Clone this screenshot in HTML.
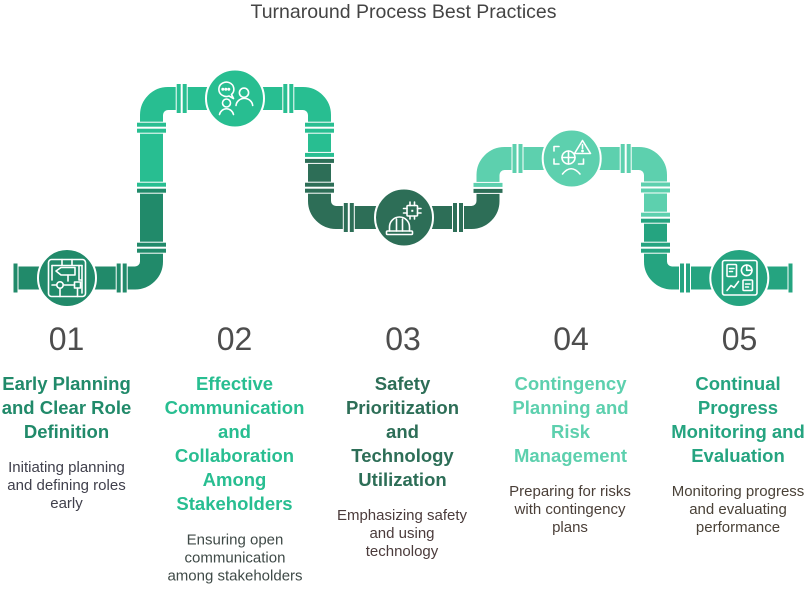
<!DOCTYPE html>
<html>
<head>
<meta charset="utf-8">
<style>
  html,body{margin:0;padding:0;background:#fff;}
  svg{display:block;}
  text{font-family:"Liberation Sans", Arial, sans-serif;}
  .num{font-size:32px;fill:#4d4d4d;text-anchor:middle;}
  .ttl{font-size:18.5px;font-weight:bold;text-anchor:middle;}
  .dsc{font-size:15px;text-anchor:middle;}
  .ic{fill:none;stroke:#fff;stroke-width:1.6;stroke-linecap:round;stroke-linejoin:round;}
</style>
</head>
<body>
<svg width="807" height="613" viewBox="0 0 807 613" xmlns="http://www.w3.org/2000/svg">
  <!-- Title -->
  <text x="403.5" y="18" text-anchor="middle" style="font-size:19.5px;fill:#444;">Turnaround Process Best Practices</text>

  <!-- Pipes -->
  <g fill="none" stroke-width="23" stroke-linecap="butt">
    <path d="M16 278 H135 A16.5 16.5 0 0 0 151.5 261.5 V187.7" stroke="#218a6a"/>
    <path d="M151.5 187.7 V115 A16.5 16.5 0 0 1 168 98.5 H303 A16.5 16.5 0 0 1 319.5 115 V157.9" stroke="#28be91"/>
    <path d="M319.5 157.9 V201 A16.5 16.5 0 0 0 336 217.5 H471.5 A16.5 16.5 0 0 0 488 201 V187.9" stroke="#2d6e57"/>
    <path d="M488 187.9 V175 A16.5 16.5 0 0 1 504.5 158.5 H639 A16.5 16.5 0 0 1 655.5 175 V217.7" stroke="#5dd0ae"/>
    <path d="M655.5 217.7 V261.5 A16.5 16.5 0 0 0 672 278 H790" stroke="#25a480"/>
  </g>

  <!-- Flanges on vertical pipes -->
  <g>
    <!-- x 151.5 -->
    <rect x="136" y="241.7" width="31" height="12" fill="#fff"/>
    <rect x="137" y="242.7" width="29" height="4" fill="#218a6a"/>
    <rect x="137" y="248.7" width="29" height="4" fill="#218a6a"/>
    <rect x="136" y="181.7" width="31" height="12" fill="#fff"/>
    <rect x="137" y="182.7" width="29" height="4" fill="#28be91"/>
    <rect x="137" y="188.7" width="29" height="4" fill="#218a6a"/>
    <rect x="136" y="121.7" width="31" height="12" fill="#fff"/>
    <rect x="137" y="122.7" width="29" height="4" fill="#28be91"/>
    <rect x="137" y="128.7" width="29" height="4" fill="#28be91"/>
    <!-- x 319.5 -->
    <rect x="304" y="121.7" width="31" height="12" fill="#fff"/>
    <rect x="305" y="122.7" width="29" height="4" fill="#28be91"/>
    <rect x="305" y="128.7" width="29" height="4" fill="#28be91"/>
    <rect x="304" y="151.9" width="31" height="12" fill="#fff"/>
    <rect x="305" y="152.9" width="29" height="4" fill="#28be91"/>
    <rect x="305" y="158.9" width="29" height="4" fill="#2d6e57"/>
    <rect x="304" y="181.7" width="31" height="12" fill="#fff"/>
    <rect x="305" y="182.7" width="29" height="4" fill="#2d6e57"/>
    <rect x="305" y="188.7" width="29" height="4" fill="#2d6e57"/>
    <!-- x 488 -->
    <rect x="472.5" y="181.9" width="31" height="12" fill="#fff"/>
    <rect x="473.5" y="182.9" width="29" height="4" fill="#5dd0ae"/>
    <rect x="473.5" y="188.9" width="29" height="4" fill="#2d6e57"/>
    <!-- x 655.5 -->
    <rect x="640" y="181.5" width="31" height="12" fill="#fff"/>
    <rect x="641" y="182.5" width="29" height="4" fill="#5dd0ae"/>
    <rect x="641" y="188.5" width="29" height="4" fill="#5dd0ae"/>
    <rect x="640" y="211.7" width="31" height="12" fill="#fff"/>
    <rect x="641" y="212.7" width="29" height="4" fill="#5dd0ae"/>
    <rect x="641" y="218.7" width="29" height="4" fill="#25a480"/>
    <rect x="640" y="241.7" width="31" height="12" fill="#fff"/>
    <rect x="641" y="242.7" width="29" height="4" fill="#25a480"/>
    <rect x="641" y="248.7" width="29" height="4" fill="#25a480"/>
  </g>

  <!-- Flanges on horizontal pipes -->
  <g>
    <!-- A left end -->
    <rect x="12.5" y="262.5" width="6" height="31" fill="#fff"/>
    <rect x="13.5" y="263.5" width="4" height="29" fill="#218a6a"/>
    <!-- A pair -->
    <rect x="115.7" y="262.5" width="12" height="31" fill="#fff"/>
    <rect x="116.7" y="263.5" width="4" height="29" fill="#218a6a"/>
    <rect x="122.7" y="263.5" width="4" height="29" fill="#218a6a"/>
    <!-- B pairs -->
    <rect x="175.7" y="83" width="12" height="31" fill="#fff"/>
    <rect x="176.7" y="84" width="4" height="29" fill="#28be91"/>
    <rect x="182.7" y="84" width="4" height="29" fill="#28be91"/>
    <rect x="282.3" y="83" width="12" height="31" fill="#fff"/>
    <rect x="283.3" y="84" width="4" height="29" fill="#28be91"/>
    <rect x="289.3" y="84" width="4" height="29" fill="#28be91"/>
    <!-- C pairs -->
    <rect x="342.8" y="202" width="12" height="31" fill="#fff"/>
    <rect x="343.8" y="203" width="4" height="29" fill="#2d6e57"/>
    <rect x="349.8" y="203" width="4" height="29" fill="#2d6e57"/>
    <rect x="452" y="202" width="12" height="31" fill="#fff"/>
    <rect x="453" y="203" width="4" height="29" fill="#2d6e57"/>
    <rect x="459" y="203" width="4" height="29" fill="#2d6e57"/>
    <!-- D pairs -->
    <rect x="511.5" y="143" width="12" height="31" fill="#fff"/>
    <rect x="512.5" y="144" width="4" height="29" fill="#5dd0ae"/>
    <rect x="518.5" y="144" width="4" height="29" fill="#5dd0ae"/>
    <rect x="619.7" y="143" width="12" height="31" fill="#fff"/>
    <rect x="620.7" y="144" width="4" height="29" fill="#5dd0ae"/>
    <rect x="626.7" y="144" width="4" height="29" fill="#5dd0ae"/>
    <!-- E pair + right end -->
    <rect x="679" y="262.5" width="12" height="31" fill="#fff"/>
    <rect x="680" y="263.5" width="4" height="29" fill="#25a480"/>
    <rect x="686" y="263.5" width="4" height="29" fill="#25a480"/>
    <rect x="787.5" y="262.5" width="6" height="31" fill="#fff"/>
    <rect x="788.5" y="263.5" width="4" height="29" fill="#25a480"/>
  </g>

  <!-- Circles -->
  <circle cx="67" cy="278" r="29" fill="#218a6a" stroke="#fff" stroke-width="2"/>
  <circle cx="235" cy="98.5" r="29" fill="#28be91" stroke="#fff" stroke-width="2"/>
  <circle cx="404" cy="217.5" r="29" fill="#2d6e57" stroke="#fff" stroke-width="2"/>
  <circle cx="571.7" cy="158.5" r="29" fill="#5dd0ae" stroke="#fff" stroke-width="2"/>
  <circle cx="739.3" cy="278" r="29" fill="#25a480" stroke="#fff" stroke-width="2"/>

  <!-- Icon 1: flowchart -->
  <g class="ic">
    <rect x="48.5" y="259.5" width="37" height="37" rx="3"/>
    <path d="M52 265.5 H82 M62 259.5 V265.5 M72 259.5 V265.5"/>
    <path d="M56 271 L61 267.5 H75 V275 H61 Z"/>
    <path d="M52 265.5 V280 M82 265.5 V293 M79 265.5 V280 H82"/>
    <path d="M68 275 V281"/>
    <circle cx="60" cy="285" r="3.2"/>
    <rect x="74.5" y="282" width="6" height="6"/>
    <path d="M63.2 285 H74.5 M60 288.2 V296.5 M77.5 288 V296.5 M52 285 H56.8"/>
  </g>

  <!-- Icon 2: people + speech bubble -->
  <g class="ic">
    <path d="M231.5 94.5 A7.5 7.2 0 1 0 229 96 L233.5 98.5 Z"/>
    <circle cx="222.8" cy="89.3" r="0.7" fill="#fff"/>
    <circle cx="225.8" cy="89.3" r="0.7" fill="#fff"/>
    <circle cx="228.8" cy="89.3" r="0.7" fill="#fff"/>
    <circle cx="226.5" cy="103" r="4"/>
    <path d="M219.5 114.5 A7.2 7.5 0 0 1 233.5 114.5"/>
    <circle cx="244" cy="92.7" r="4.6"/>
    <path d="M236 105.5 A8.4 8 0 0 1 252.7 105.5"/>
  </g>

  <!-- Icon 3: hard hat + chip -->
  <g class="ic">
    <rect x="407" y="205.5" width="10.5" height="10.5" rx="1"/>
    <rect x="411.3" y="209.8" width="2" height="2" fill="#fff" stroke="none"/>
    <path d="M410 205.5 V202 M414.5 205.5 V202 M410 216 V219 M414.5 216 V219 M407 208.5 H403.5 M407 213 H403.5 M417.5 208.5 H421 M417.5 213 H421"/>
    <path d="M389.5 231 V227 A10 10 0 0 1 409.5 227 V231"/>
    <rect x="386.5" y="231" width="26" height="3.5" rx="1"/>
    <path d="M396.5 231 V219 M402.5 231 V219"/>
  </g>

  <!-- Icon 4: focus frame, globe, warning, frown -->
  <g class="ic">
    <path d="M554 151 V146.5 H559 M554 159 V164 H559 M583.5 159 V164 H578.5"/>
    <circle cx="568.5" cy="157.5" r="6.5"/>
    <path d="M568.5 151 V164 M562 157.5 H575"/>
    <path d="M582.5 140.5 L590.5 153.5 H574.5 Z"/>
    <path d="M582.5 144.5 V148.5"/>
    <circle cx="582.5" cy="151" r="0.6" fill="#fff"/>
    <path d="M562.5 174 Q571 163.5 580 174"/>
  </g>

  <!-- Icon 5: dashboard -->
  <g class="ic">
    <rect x="722.5" y="260.5" width="34.5" height="34.5" rx="2"/>
    <rect x="727" y="264.5" width="9.5" height="12" rx="1"/>
    <path d="M729.5 268.5 H734 M729.5 271.5 H732.5"/>
    <circle cx="746.7" cy="270.3" r="5.3"/>
    <path d="M746.7 265 V270.3 H752"/>
    <path d="M727 290.5 L731 285.5 L734 287.5 L738.5 281.5"/>
    <rect x="743" y="280" width="9.5" height="10.5" rx="1"/>
    <path d="M745.5 284 H750 M745.5 287 H748.5"/>
  </g>

  <!-- Numbers -->
  <text class="num" x="66.5" y="350">01</text>
  <text class="num" x="234.5" y="350">02</text>
  <text class="num" x="403" y="350">03</text>
  <text class="num" x="571" y="350">04</text>
  <text class="num" x="739.5" y="350">05</text>

  <!-- Titles -->
  <g class="ttl" fill="#218a6a">
    <text x="66.5" y="390">Early Planning</text>
    <text x="66.5" y="414">and Clear Role</text>
    <text x="66.5" y="438">Definition</text>
  </g>
  <g class="ttl" fill="#28be91">
    <text x="234.5" y="390">Effective</text>
    <text x="234.5" y="414">Communication</text>
    <text x="234.5" y="438">and</text>
    <text x="234.5" y="462">Collaboration</text>
    <text x="234.5" y="486">Among</text>
    <text x="234.5" y="510">Stakeholders</text>
  </g>
  <g class="ttl" fill="#2d6e57">
    <text x="402.5" y="390">Safety</text>
    <text x="402.5" y="414">Prioritization</text>
    <text x="402.5" y="438">and</text>
    <text x="402.5" y="462">Technology</text>
    <text x="402.5" y="486">Utilization</text>
  </g>
  <g class="ttl" fill="#5dd0ae">
    <text x="570.5" y="390">Contingency</text>
    <text x="570.5" y="414">Planning and</text>
    <text x="570.5" y="438">Risk</text>
    <text x="570.5" y="462">Management</text>
  </g>
  <g class="ttl" fill="#25a480">
    <text x="738" y="390">Continual</text>
    <text x="738" y="414">Progress</text>
    <text x="738" y="438">Monitoring and</text>
    <text x="738" y="462">Evaluation</text>
  </g>

  <!-- Descriptions -->
  <g class="dsc" fill="#40404c">
    <text x="66.5" y="472">Initiating planning</text>
    <text x="66.5" y="490">and defining roles</text>
    <text x="66.5" y="508">early</text>
  </g>
  <g class="dsc" fill="#3f4a47">
    <text x="235" y="544.5">Ensuring open</text>
    <text x="235" y="562.5">communication</text>
    <text x="235" y="580.5">among stakeholders</text>
  </g>
  <g class="dsc" fill="#4b3b3b">
    <text x="402" y="520">Emphasizing safety</text>
    <text x="402" y="538">and using</text>
    <text x="402" y="556">technology</text>
  </g>
  <g class="dsc" fill="#4a3f38">
    <text x="570" y="496">Preparing for risks</text>
    <text x="570" y="514">with contingency</text>
    <text x="570" y="532">plans</text>
  </g>
  <g class="dsc" fill="#4a4238">
    <text x="738" y="496">Monitoring progress</text>
    <text x="738" y="514">and evaluating</text>
    <text x="738" y="532">performance</text>
  </g>
</svg>
</body>
</html>
